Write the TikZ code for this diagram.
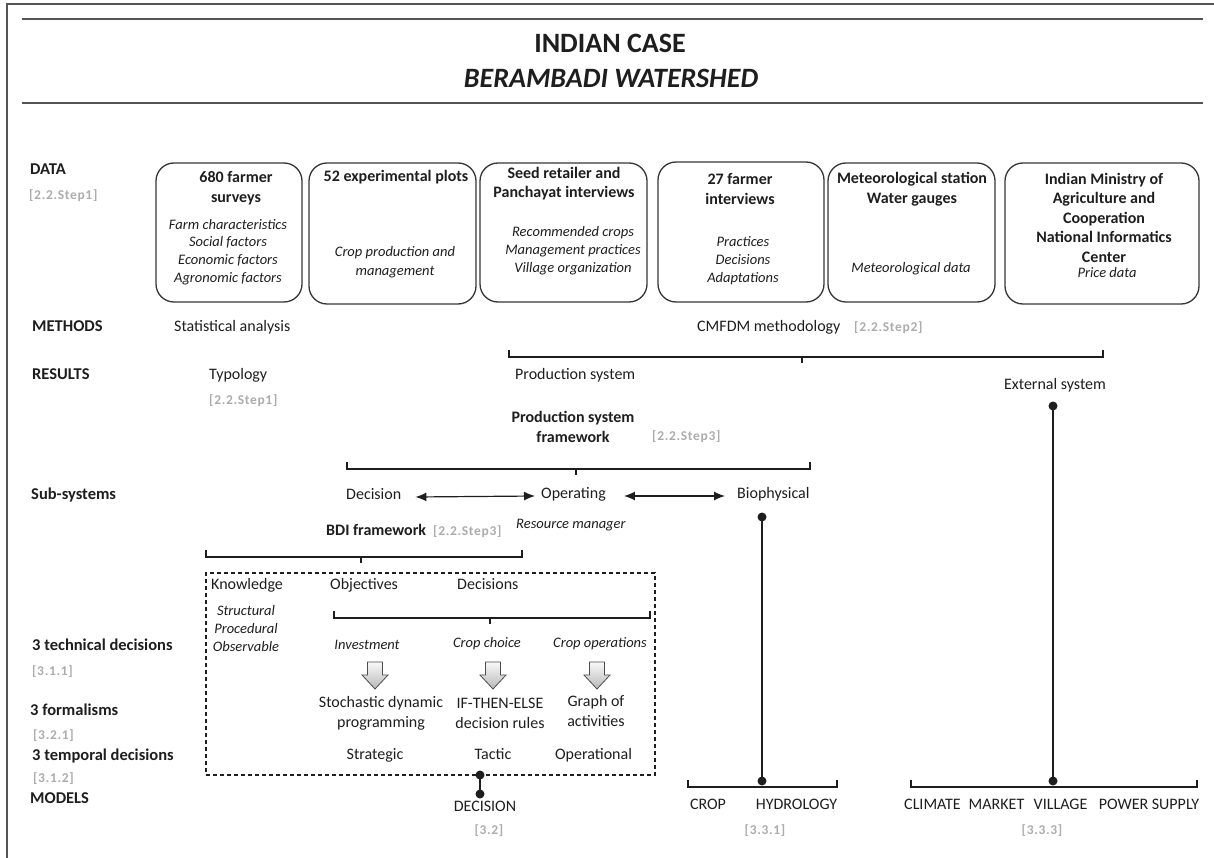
\documentclass[tikz,border=0pt]{standalone}
\usepackage{fontspec}
\setmainfont{Carlito}
\newfontfamily\reffont[LetterSpace=5]{Carlito}
\usetikzlibrary{arrows.meta}
\definecolor{refgray}{RGB}{172,172,172}
\definecolor{ink}{RGB}{30,30,30}
\definecolor{rulec}{RGB}{85,85,85}
\begin{document}
\begin{tikzpicture}[x=1pt,y=-1pt,
 lab/.style={font={\bfseries\fontsize{16.5}{20}\selectfont}, anchor=mid west, inner sep=0pt, text=ink},
 txt/.style={font={\fontsize{16}{20}\selectfont}, inner sep=0pt, text=ink, align=center},
 itx/.style={font={\itshape\fontsize{14.5}{18}\selectfont}, inner sep=0pt, text=ink, align=center},
 btx/.style={font={\bfseries\fontsize{16}{20}\selectfont}, inner sep=0pt, align=center, text=ink},
 reft/.style={font={\reffont\bfseries\fontsize{13.5}{16}\selectfont}, inner sep=0pt, text=refgray},
 databox/.style={draw=ink!90, line width=1.3pt, rounded corners=18pt},
 brk/.style={draw=ink, line width=1.2pt},
 conn/.style={draw=ink, line width=1.3pt},
 dotc/.style={fill=ink},
 dbl/.style={draw=ink, line width=1.2pt, {Latex[length=11pt,width=9pt]}-{Latex[length=11pt,width=9pt]}},
 blockarr/.style={draw=gray!60!black, line width=0.8pt, top color=gray!5, bottom color=gray!55},
 dashbox/.style={draw=ink, line width=1.2pt, dash pattern=on 4pt off 3pt},
]
\useasboundingbox (0,0) rectangle (1214,858);
% frame and title rules
\draw[line width=1.5pt, draw=rulec] (7,858) -- (7,4) -- (1214,4);
\draw[line width=2pt, draw=rulec] (22,19) -- (1203,19);
\draw[line width=2pt, draw=rulec] (22,103) -- (1203,103);
\node[font={\bfseries\fontsize{28}{32}\selectfont}, inner sep=0pt, text=ink] (t1) at (610,43) {INDIAN CASE};
\node[font={\bfseries\itshape\fontsize{28}{32}\selectfont}, inner sep=0pt, text=ink] (t2) at (611,78) {BERAMBADI WATERSHED};

% left labels
\node[lab] (lData) at (30,172) {DATA};
\node[reft, anchor=mid west] (rData) at (29,197) {[2.2.Step1]};
\node[lab] (lMeth) at (32,329) {METHODS};
\node[lab] (lRes) at (32,377) {RESULTS};
\node[lab] (lSub) at (31,497) {Sub-systems};
\node[lab] (lTech) at (32,648) {3 technical decisions};
\node[reft, anchor=mid west] (rTech) at (32,673) {[3.1.1]};
\node[lab] (lForm) at (30,713) {3 formalisms};
\node[reft, anchor=mid west] (rForm) at (33,737) {[3.2.1]};
\node[lab] (lTemp) at (32,758) {3 temporal decisions};
\node[reft, anchor=mid west] (rTemp) at (33,780) {[3.1.2]};
\node[lab] (lMod) at (30,801) {MODELS};

% data boxes
\node[databox, minimum width=146pt, minimum height=139pt] (b1) at (229,232.5) {};
\node[databox, minimum width=167pt, minimum height=141pt] (b2) at (392.5,233.5) {};
\node[databox, minimum width=167pt, minimum height=139pt] (b3) at (563.5,232.5) {};
\node[databox, minimum width=166pt, minimum height=140pt] (b4) at (741,232) {};
\node[databox, minimum width=167pt, minimum height=139pt] (b5) at (911.5,232.5) {};
\node[databox, minimum width=194pt, minimum height=141pt] (b6) at (1102,233.5) {};

\node[btx] (b1t) at (236,188) {680 farmer\\surveys};
\node[itx, font={\itshape\fontsize{14.5}{17.7}\selectfont}] (b1i) at (228,252) {Farm characteristics\\Social factors\\Economic factors\\Agronomic factors};
\node[btx] (b2t) at (396,177) {52 experimental plots};
\node[itx, font={\itshape\fontsize{14.5}{19}\selectfont}] (b2i) at (395,262.5) {Crop production and\\management};
\node[btx, font={\bfseries\fontsize{16}{19}\selectfont}] (b3t) at (564,183.5) {Seed retailer and\\Panchayat interviews};
\node[itx] (b3i) at (573,251) {Recommended crops\\Management practices\\Village organization};
\node[btx] (b4t) at (740,189) {27 farmer\\interviews};
\node[itx] (b4i) at (743,261) {Practices\\Decisions\\Adaptations};
\node[btx] (b5t) at (912,189) {Meteorological station\\Water gauges};
\node[itx] (b5i) at (911,269) {Meteorological data};
\node[btx, font={\bfseries\fontsize{16}{19.5}\selectfont}] (b6t) at (1104,217.5) {Indian Ministry of\\Agriculture and\\Cooperation\\National Informatics\\Center};
\node[itx] (b6i) at (1107,273) {Price data};

% methods / results
\node[txt, anchor=mid west] (stat) at (174,329) {Statistical analysis};
\node[txt, anchor=mid west] (cmfdm) at (697,329) {CMFDM methodology};
\node[reft, anchor=mid west] (rCm) at (854,329) {[2.2.Step2]};
\node[txt, anchor=mid west] (typo) at (209,377) {Typology};
\node[reft, anchor=mid west] (rTypo) at (209,402) {[2.2.Step1]};
\node[txt, anchor=mid west] (prod) at (515,377) {Production system};
\node[txt] (ext) at (1055,385) {External system};
\node[btx] (psf) at (573,427) {Production system\\framework};
\node[reft, anchor=mid west] (rPsf) at (652,438) {[2.2.Step3]};

% CMFDM bracket
\coordinate (cmL) at (509,357); \coordinate (cmR) at (1103,357); \coordinate (cmT) at (802,357);
\draw[brk] ([yshift=7]cmL) -- (cmL) -- (cmR) -- ([yshift=7]cmR);
\draw[brk] (cmT) -- ([yshift=-6]cmT);

% PSF bracket
\coordinate (psL) at (347,469); \coordinate (psR) at (810,469); \coordinate (psT) at (576,469);
\draw[brk] ([yshift=7]psL) -- (psL) -- (psR) -- ([yshift=7]psR);
\draw[brk] (psT) -- ([yshift=-6]psT);

% sub-systems
\node[txt, anchor=mid west] (dec) at (346,497) {Decision};
\node[txt, anchor=mid west] (oper) at (541,496) {Operating};
\node[txt, anchor=mid west] (bio) at (737,496) {Biophysical};
\draw[dbl] ([xshift=14pt]dec.mid east) -- ([xshift=-6pt]oper.mid west);
\draw[dbl] ([xshift=18pt]oper.mid east) -- ([xshift=-12pt]bio.mid west);
\node[itx, anchor=mid west] (resm) at (516,526) {Resource manager};
\node[btx, anchor=mid west] (bdi) at (326,533) {BDI framework};
\node[reft, anchor=mid west] (rBdi) at (433,533) {[2.2.Step3]};

% BDI bracket
\coordinate (bdL) at (206,557); \coordinate (bdR) at (522,557); \coordinate (bdT) at (361,557);
\draw[brk] ([yshift=7]bdL) -- (bdL) -- (bdR) -- ([yshift=7]bdR);
\draw[brk] (bdT) -- ([yshift=-6]bdT);

% dashed BDI box
\node[dashbox, minimum width=449pt, minimum height=202pt] (dbox) at (430.5,674) {};
\node[txt, anchor=mid west] (know) at (211,587) {Knowledge};
\node[txt, anchor=mid west] (obj) at (330,587) {Objectives};
\node[txt, anchor=mid west] (decs) at (457,587) {Decisions};
\node[itx] (kitems) at (246,629) {Structural\\Procedural\\Observable};

% decisions bracket
\coordinate (dsL) at (334,618); \coordinate (dsR) at (650,618); \coordinate (dsT) at (490,618);
\draw[brk] ([yshift=7]dsL) -- (dsL) -- (dsR) -- ([yshift=7]dsR);
\draw[brk] (dsT) -- ([yshift=-6]dsT);

\node[itx] (inv) at (367,645) {Investment};
\node[itx] (cch) at (487,644) {Crop choice};
\node[itx] (cop) at (600,644) {Crop operations};

% block arrows
\foreach \cx in {375, 493, 597}{
  \path[blockarr] (\cx-7.5,662) -- (\cx+7.5,662) -- (\cx+7.5,675) -- (\cx+13,675) -- (\cx,689) -- (\cx-13,675) -- (\cx-7.5,675) -- cycle;
}

\node[txt] (sdp) at (381,713) {Stochastic dynamic\\programming};
\node[txt] (ite) at (500,713) {IF-THEN-ELSE\\decision rules};
\node[txt] (goa) at (596,711) {Graph of\\activities};
\node[txt, anchor=mid] (strat) at (375,757) {Strategic};
\node[txt, anchor=mid] (tact) at (493,757) {Tactic};
\node[txt, anchor=mid] (opl) at (593.5,757) {Operational};

% decision model
\coordinate (dmTop) at (480,775); \coordinate (dmBot) at (480,794);
\draw[conn] (dmTop) -- (dmBot);
\fill[dotc] (dmTop) circle (4.5pt);
\fill[dotc] (dmBot) circle (4.5pt);
\node[txt, anchor=mid] (mdec) at (485,809) {DECISION};
\node[reft, anchor=mid] (rDec) at (489,832) {[3.2]};

% biophysical models
\coordinate (bioTop) at (762,517); \coordinate (bioBot) at (762,781);
\draw[conn] (bioTop) -- (bioBot);
\fill[dotc] (bioTop) circle (4.5pt);
\fill[dotc] (bioBot) circle (4.5pt);
\coordinate (cbL) at (688,787); \coordinate (cbR) at (837,787);
\draw[brk] ([yshift=7]cbL) -- (cbL) -- (cbR) -- ([yshift=7]cbR);
\node[txt, anchor=mid] (crop) at (708,807) {CROP};
\node[txt, anchor=mid] (hydro) at (796.5,807) {HYDROLOGY};
\node[reft, anchor=mid] (rBio) at (765,832) {[3.3.1]};

% external models
\coordinate (exTop) at (1053,406); \coordinate (exBot) at (1053,781);
\draw[conn] (exTop) -- (exBot);
\fill[dotc] (exTop) circle (4.5pt);
\fill[dotc] (exBot) circle (4.5pt);
\coordinate (ebL) at (911,787); \coordinate (ebR) at (1197,787);
\draw[brk] ([yshift=7]ebL) -- (ebL) -- (ebR) -- ([yshift=7]ebR);
\node[txt, anchor=mid] (clim) at (932.5,807) {CLIMATE};
\node[txt, anchor=mid] (mark) at (996.5,807) {MARKET};
\node[txt, anchor=mid] (vill) at (1060.5,807) {VILLAGE};
\node[txt, anchor=mid] (pows) at (1149,807) {POWER SUPPLY};
\node[reft, anchor=mid] (rExt) at (1042,832) {[3.3.3]};
\end{tikzpicture}
\end{document}
